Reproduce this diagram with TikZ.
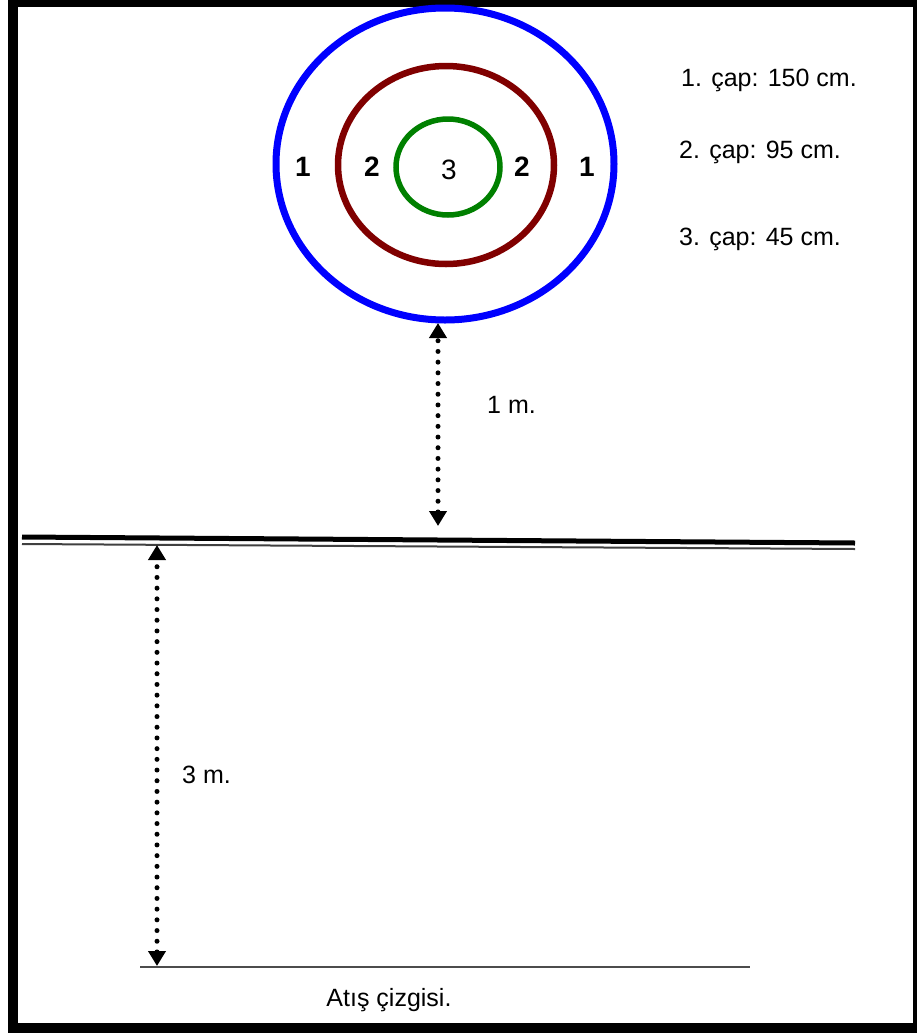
\documentclass[tikz,border=0pt]{standalone}
\usepackage{fontspec}
\setmainfont{Liberation Sans}
\usetikzlibrary{arrows.meta}
\definecolor{ringblue}{RGB}{0,0,255}
\definecolor{ringred}{RGB}{128,0,0}
\definecolor{ringgreen}{RGB}{0,128,0}
\tikzset{
  lbl/.style={inner sep=0pt, font=\fontsize{25}{28}\selectfont},
  ringlbl/.style={inner sep=0pt, font=\fontsize{28}{30}\selectfont\bfseries},
  dotarrow/.style={line width=5pt, line cap=round, dash pattern=on 0pt off 10.7pt,
     {Triangle[width=17pt,length=15pt,line cap=butt,line join=miter]}-{Triangle[width=17pt,length=15pt,line cap=butt,line join=miter]}},
}
\begin{document}
\begin{tikzpicture}[x=1pt,y=-1pt]
\useasboundingbox (0,0) rectangle (917,1034);
% frame
\fill[black] (8,0) rectangle (917,1033);
\fill[white] (18,7) rectangle (913,1023);
% rings
\draw[ringblue, line width=7pt] (445,164) ellipse [x radius=169, y radius=156];
\draw[ringred, line width=6.5pt] (446,165) ellipse [x radius=108, y radius=99];
\draw[ringgreen, line width=5.5pt] (448,167) ellipse [x radius=52, y radius=48];
% ring labels
\node[ringlbl] (l1a) at (303,167) {1};
\node[ringlbl] (l2a) at (372,167) {2};
\node[inner sep=0pt, font=\fontsize{28}{30}\selectfont] (l3) at (449,170) {3};
\node[ringlbl] (l2b) at (522,167) {2};
\node[ringlbl] (l1b) at (587,167) {1};
% diameters
\node[lbl, anchor=west] (d1) at (681,80) {1. çap: 150 cm.};
\node[lbl, anchor=west] (d2) at (679,152) {2. çap: 95 cm.};
\node[lbl, anchor=west] (d3) at (679,239) {3. çap: 45 cm.};
% target line (double)
\coordinate (tlA) at (22,537);
\coordinate (tlB) at (855,543);
\coordinate (tlC) at (22,544);
\coordinate (tlD) at (855,549);
\draw[line width=5pt] (tlA) -- (tlB);
\draw[black!75, line width=2pt] (tlC) -- (tlD);
% throwing line
\coordinate (slA) at (140,967);
\coordinate (slB) at (750,967);
\draw[black!70, line width=2.5pt] (slA) -- (slB);
% distance arrows
\coordinate (a1t) at (438,323);
\coordinate (a1b) at (438,526);
\draw[dotarrow] (a1b) -- (a1t);
\coordinate (a2t) at (157,545);
\coordinate (a2b) at (157,966);
\draw[dotarrow] (a2b) -- (a2t);
\node[lbl, anchor=west] (m1) at (487,405) {1 m.};
\node[lbl, anchor=west] (m3) at (182,775) {3 m.};
\node[lbl] (sl) at (389,1000) {Atış çizgisi.};
\end{tikzpicture}
\end{document}
